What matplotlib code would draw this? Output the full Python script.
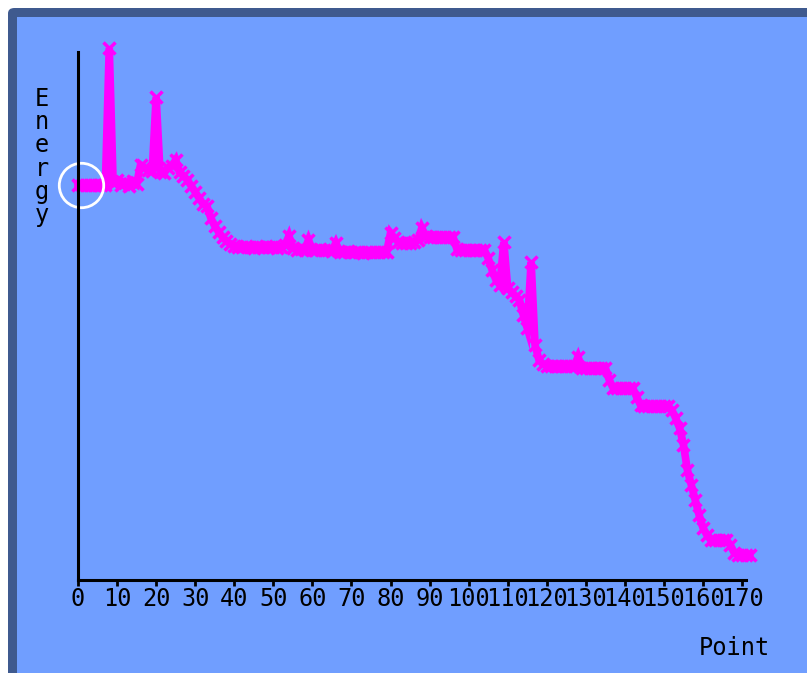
import matplotlib
matplotlib.use("Agg")
import matplotlib.pyplot as plt
from matplotlib.patches import Rectangle, FancyBboxPatch

# energy per point
energy = [395, 395, 395, 395, 395, 395, 395, 395,
          532,
          397, 400, 395, 398, 394, 399, 396,
          415, 412, 410, 409,
          483,
          408, 407, 412, 414,
          420,
          408, 404, 400, 394, 388, 382, 376, 374, 362, 354, 348, 343, 339, 336, 334,
          333, 333, 334, 333, 332, 333, 333, 334, 333, 333, 332, 333, 335,
          344,
          332, 330, 331, 330,
          340,
          330, 330, 331, 330, 330, 329,
          337,
          328, 328, 329, 328, 328, 328, 327, 328, 328, 328, 328, 328, 328,
          347,
          342, 338, 337, 337, 337, 338, 340,
          352,
          344, 343, 343, 343, 343, 343, 343, 343,
          331, 330, 330, 330, 330, 330, 330, 330,
          322, 310, 300, 295,
          338,
          292, 288, 284, 280, 265, 252,
          318,
          235, 220, 216,
          214, 214, 214, 214, 214, 214, 214, 214,
          223,
          212, 212, 212, 212, 212, 212, 212,
          200, 192, 192, 192, 192, 192, 192,
          183, 175, 174, 174, 174, 174, 174, 174, 174,
          170, 162, 152, 135, 110, 95, 80, 65, 52, 45, 40,
          40, 40, 40, 40,
          35, 27,
          25, 25, 25, 25]
points = list(range(len(energy)))
xticks = [0, 10, 20, 30, 40, 50, 60, 70, 80, 90, 100, 110, 120, 130, 140, 150, 160, 170]

W, H = 807, 673
BG = "#709eff"
BORDER = "#3f5a8f"
FONT = ["DejaVu Sans Mono"]

def fx(px):
    return px / W

def fy(py):
    return 1 - py / H

fig = plt.figure(figsize=(W / 100, H / 100), dpi=100)
fig.patch.set_facecolor("white")

# window frame: dark edge only on top and left, light panel runs off the right/bottom
fig.add_artist(FancyBboxPatch((fx(8), fy(760)), fx(900), fy(8) - fy(760),
                              boxstyle="round,pad=0,rounding_size=0.008",
                              transform=fig.transFigure, facecolor=BORDER,
                              edgecolor="none", zorder=-3))
fig.add_artist(Rectangle((fx(17), fy(760)), fx(900), fy(17) - fy(760),
                         transform=fig.transFigure, facecolor=BG,
                         edgecolor="none", zorder=-2))

ax = fig.add_axes([fx(78), fy(580), fx(746) - fx(78), fy(52) - fy(580)])
ax.set_facecolor("none")

ax.plot(points, energy, color="#ff00ff", lw=5.5, marker="x", ms=8, mew=2.5,
        clip_on=False, solid_joinstyle="miter")
ax.plot(0.8, energy[0], "o", ms=32, mfc="none", mec="white", mew=2, clip_on=False)

ax.set_xlim(0, 171)
ax.set_ylim(0, 528)
ax.set_xticks(xticks)
ax.set_xticklabels([str(t) for t in xticks], family=FONT, fontsize=17)
ax.set_yticks([])
ax.tick_params(axis="x", direction="out", length=4, width=2, color="black", pad=1)

for s in ("top", "right"):
    ax.spines[s].set_visible(False)
for s in ("left", "bottom"):
    ax.spines[s].set_linewidth(2.2)
    ax.spines[s].set_color("black")

fig.text(fx(42), fy(157), "E\nn\ne\nr\ng\ny", ha="center", va="center",
         family=FONT, fontsize=17, linespacing=0.95)
fig.text(fx(734), fy(648), "Point", ha="center", va="center",
         family=FONT, fontsize=17)

fig.savefig("out.png", dpi=100)
